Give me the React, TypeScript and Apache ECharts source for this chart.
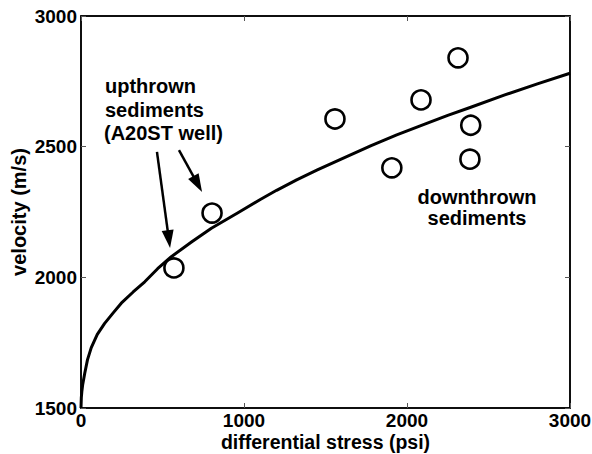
import React, { useEffect, useRef } from "react";
import * as echarts from "echarts";

// Measured data points (differential stress psi, velocity m/s)
const stressPoints = [570, 804, 1558, 1907, 2086, 2313, 2391, 2386];
const velocityPoints = [2036, 2246, 2606, 2419, 2679, 2840, 2582, 2452];

// Fitted trend curve
const curveStress = [0, 2, 5, 10, 23, 40, 63, 100, 145, 200, 247, 320, 391, 470, 554, 680, 800, 963, 1100, 1200, 1323, 1450, 1630, 1780, 1937, 2121, 2250, 2387, 2600, 2800, 3000];
const curveVelocity = [1500, 1540, 1562, 1588, 1633, 1685, 1731, 1782, 1824, 1866, 1901, 1944, 1983, 2033, 2079, 2136, 2188, 2247, 2298, 2333, 2373, 2411, 2462, 2504, 2545, 2589, 2620, 2650, 2698, 2740, 2781];

const xTicks = [0, 1000, 2000, 3000];
const yTicks = [1500, 2000, 2500, 3000];

const xTitle = "differential stress (psi)";
const yTitle = "velocity (m/s)";

// Annotation arrows in data coordinates: [fromX, fromY, toX, toY]
const arrow1 = [466, 2480, 539, 2146];
const arrow2 = [601, 2487, 716, 2357];

const FONT = "'Liberation Sans', Arial, Helvetica, sans-serif";

export default function App() {
  const ref = useRef<HTMLDivElement>(null);
  useEffect(() => {
    if (!ref.current) return;
    const chart = echarts.init(ref.current, undefined, { renderer: "svg" });
    const labelStyle = { color: "#000", fontWeight: "bold", fontSize: 19, fontFamily: FONT, lineHeight: 14 };
    const axisCommon = {
      axisLine: { show: true, onZero: false, lineStyle: { color: "#000", width: 1.5 } },
      axisTick: { show: true, inside: true, length: 5, lineStyle: { color: "#555", width: 1 } },
      splitLine: { show: false },
    };
    const arrowLine = (a: number[]) => [
      { coord: [a[0], a[1]] },
      { coord: [a[2], a[3]] },
    ];
    const fmt = (v: number) => String(v);
    const annFont = `bold 20px ${FONT}`;
    chart.setOption({
      animation: false,
      backgroundColor: "#fff",
      grid: {
        left: 81, right: 22, top: 16, bottom: 46, containLabel: false,
        outerBoundsMode: "none",
        show: true, borderColor: "#000", borderWidth: 1.5, backgroundColor: "transparent",
      },
      xAxis: [
        {
          type: "value",
          position: "bottom",
          min: xTicks[0],
          max: xTicks[xTicks.length - 1],
          interval: 1000,
          ...axisCommon,
          axisLabel: { ...labelStyle, margin: 5.5, formatter: fmt },
        },
        {
          type: "value",
          position: "top",
          min: xTicks[0],
          max: xTicks[xTicks.length - 1],
          interval: 1000,
          ...axisCommon,
          axisLabel: { show: false },
        },
      ],
      yAxis: [
        {
          type: "value",
          position: "left",
          min: yTicks[0],
          max: yTicks[yTicks.length - 1],
          interval: 500,
          ...axisCommon,
          axisLabel: { ...labelStyle, margin: 4, formatter: fmt },
        },
        {
          type: "value",
          position: "right",
          min: yTicks[0],
          max: yTicks[yTicks.length - 1],
          interval: 500,
          ...axisCommon,
          axisLabel: { show: false },
        },
      ],
      series: [
        {
          type: "line",
          xAxisIndex: 0,
          yAxisIndex: 0,
          data: curveStress.map((x, i) => [x, curveVelocity[i]]),
          showSymbol: false,
          symbol: "none",
          lineStyle: { color: "#000", width: 3, join: "round" },
          z: 2,
        },
        {
          type: "scatter",
          xAxisIndex: 1,
          yAxisIndex: 1,
          data: [],
        },
        {
          type: "scatter",
          xAxisIndex: 0,
          yAxisIndex: 0,
          data: stressPoints.map((x, i) => [x, velocityPoints[i]]),
          symbol: "circle",
          symbolSize: 19,
          itemStyle: { color: "transparent", borderColor: "#000", borderWidth: 2.6, opacity: 1 },
          z: 3,
          markLine: {
            silent: true,
            symbol: ["none", "triangle"],
            symbolSize: [12, 18],
            label: { show: false },
            lineStyle: { color: "#000", width: 2.5, type: "solid", opacity: 1 },
            itemStyle: { color: "#000" },
            data: [arrowLine(arrow1), arrowLine(arrow2)],
          },
        },
      ],
      graphic: [
        { type: "text", x: 325.5, y: 442.3, style: { text: xTitle, font: `bold 19.5px ${FONT}`, fill: "#000", align: "center", verticalAlign: "middle", lineHeight: 18 } },
        { type: "text", x: 19, y: 212, rotation: Math.PI / 2, style: { text: yTitle, font: annFont, fill: "#000", align: "center", verticalAlign: "middle" } },
        { type: "text", left: 105, top: 76, style: { text: "upthrown", font: annFont, fill: "#000" } },
        { type: "text", left: 105, top: 99.5, style: { text: "sediments", font: annFont, fill: "#000" } },
        { type: "text", left: 104, top: 123, style: { text: "(A20ST well)", font: annFont, fill: "#000" } },
        { type: "text", x: 477, y: 196.7, style: { text: "downthrown", font: annFont, fill: "#000", align: "center", verticalAlign: "middle" } },
        { type: "text", x: 477, y: 218.4, style: { text: "sediments", font: annFont, fill: "#000", align: "center", verticalAlign: "middle" } },
      ],
    });
    return () => chart.dispose();
  }, []);
  return <div ref={ref} style={{ position: "absolute", left: 0, top: 0, width: 592, height: 454 }} />;
}
